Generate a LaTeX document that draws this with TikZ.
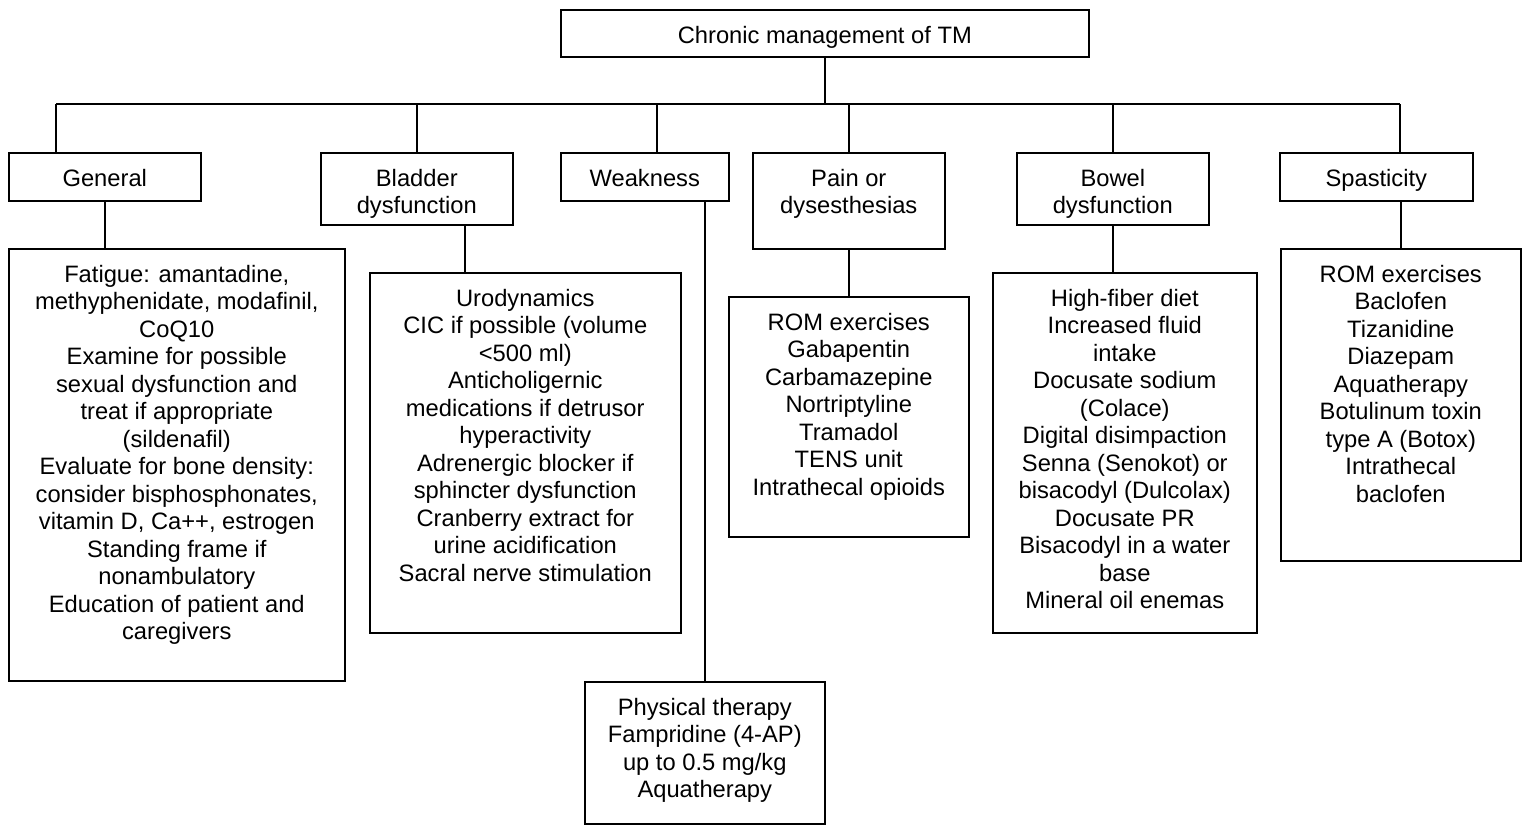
\documentclass[tikz,border=0pt]{standalone}
\usepackage{fontspec}
\setmainfont{Liberation Sans}

\tikzset{
  box/.style={draw, line width=0.9pt, anchor=north west, inner sep=0pt},
  boxtext/.style={anchor=north, inner sep=0pt, align=center, yshift=-0.33cm,
    font=\fontsize{13.5}{15.65}\selectfont},
  link/.style={line width=0.9pt},
}

\begin{document}
\begin{tikzpicture}
\useasboundingbox (0,0) rectangle (30.58,-16.48);

% Top box
\node[box, minimum width=10.56cm, minimum height=0.94cm] (top) at (11.2,-0.18) {};
\node[boxtext] (top-t) at (top.north) {Chronic management of TM};

% Headings
\node[box, minimum width=3.84cm, minimum height=0.96cm] (gen) at (0.16,-3.04) {};
\node[box, minimum width=3.84cm, minimum height=1.44cm] (blad) at (6.4,-3.04) {};
\node[box, minimum width=3.36cm, minimum height=0.96cm] (weak) at (11.2,-3.04) {};
\node[box, minimum width=3.84cm, minimum height=1.92cm] (pain) at (15.04,-3.04) {};
\node[box, minimum width=3.84cm, minimum height=1.44cm] (bow) at (20.32,-3.04) {};
\node[box, minimum width=3.86cm, minimum height=0.96cm] (spas) at (25.58,-3.04) {};

\node[boxtext] (gen-t) at (gen.north) {General};
\node[boxtext] (blad-t) at (blad.north) {Bladder\\dysfunction};
\node[boxtext] (weak-t) at (weak.north) {Weakness};
\node[boxtext] (pain-t) at (pain.north) {Pain or\\dysesthesias};
\node[boxtext] (bow-t) at (bow.north) {Bowel\\dysfunction};
\node[boxtext] (spas-t) at (spas.north) {Spasticity};

% Lists
\node[box, minimum width=6.72cm, minimum height=8.64cm] (genl) at (0.16,-4.96) {};
\node[box, minimum width=6.22cm, minimum height=7.2cm] (bladl) at (7.38,-5.44) {};
\node[box, minimum width=4.8cm, minimum height=2.84cm] (weakl) at (11.68,-13.62) {};
\node[box, minimum width=4.8cm, minimum height=4.8cm] (painl) at (14.56,-5.92) {};
\node[box, minimum width=5.28cm, minimum height=7.2cm] (bowl) at (19.84,-5.44) {};
\node[box, minimum width=4.8cm, minimum height=6.24cm] (spasl) at (25.6,-4.96) {};

\node[boxtext] (genl-t) at (genl.north) {Fatigue: amantadine,\\methyphenidate, modafinil,\\CoQ10\\Examine for possible\\sexual dysfunction and\\treat if appropriate\\(sildenafil)\\Evaluate for bone density:\\consider bisphosphonates,\\vitamin D, Ca++, estrogen\\Standing frame if\\nonambulatory\\Education of patient and\\caregivers};
\node[boxtext] (bladl-t) at (bladl.north) {Urodynamics\\CIC if possible (volume\\<500 ml)\\Anticholigernic\\medications if detrusor\\hyperactivity\\Adrenergic blocker if\\sphincter dysfunction\\Cranberry extract for\\urine acidification\\Sacral nerve stimulation};
\node[boxtext] (weakl-t) at (weakl.north) {Physical therapy\\Fampridine (4-AP)\\up to 0.5 mg/kg\\Aquatherapy};
\node[boxtext] (painl-t) at (painl.north) {ROM exercises\\Gabapentin\\Carbamazepine\\Nortriptyline\\Tramadol\\TENS unit\\Intrathecal opioids};
\node[boxtext] (bowl-t) at (bowl.north) {High-fiber diet\\Increased fluid\\intake\\Docusate sodium\\(Colace)\\Digital disimpaction\\Senna (Senokot) or\\bisacodyl (Dulcolax)\\Docusate PR\\Bisacodyl in a water\\base\\Mineral oil enemas};
\node[boxtext] (spasl-t) at (spasl.north) {ROM exercises\\Baclofen\\Tizanidine\\Diazepam\\Aquatherapy\\Botulinum toxin\\type A (Botox)\\Intrathecal\\baclofen};

% Bus
\coordinate (busL) at (1.12,-2.08);
\coordinate (busR) at (28,-2.08);
\coordinate (weakup) at ([xshift=0.24cm]weak.north);
\coordinate (bladdrop) at ([xshift=0.96cm]blad.south);

\draw[link] (busL) -- (busR);
\draw[link] (top.south) -- (top.south |- busL);
\draw[link] (busL) -- (busL |- gen.north);
\draw[link] (blad.north) -- (blad.north |- busL);
\draw[link] (weakup) -- (weakup |- busL);
\draw[link] (pain.north) -- (pain.north |- busL);
\draw[link] (bow.north) -- (bow.north |- busL);
\draw[link] (busR) -- (busR |- spas.north);

% Drops to lists
\draw[link] (gen.south) -- (gen.south |- genl.north);
\draw[link] (bladdrop) -- (bladdrop |- bladl.north);
\draw[link] (weak.south -| weakl.north) -- (weakl.north);
\draw[link] (pain.south) -- (pain.south |- painl.north);
\draw[link] (bow.south) -- (bow.south |- bowl.north);
\draw[link] (spas.south -| spasl.north) -- (spasl.north);

\end{tikzpicture}
\end{document}
